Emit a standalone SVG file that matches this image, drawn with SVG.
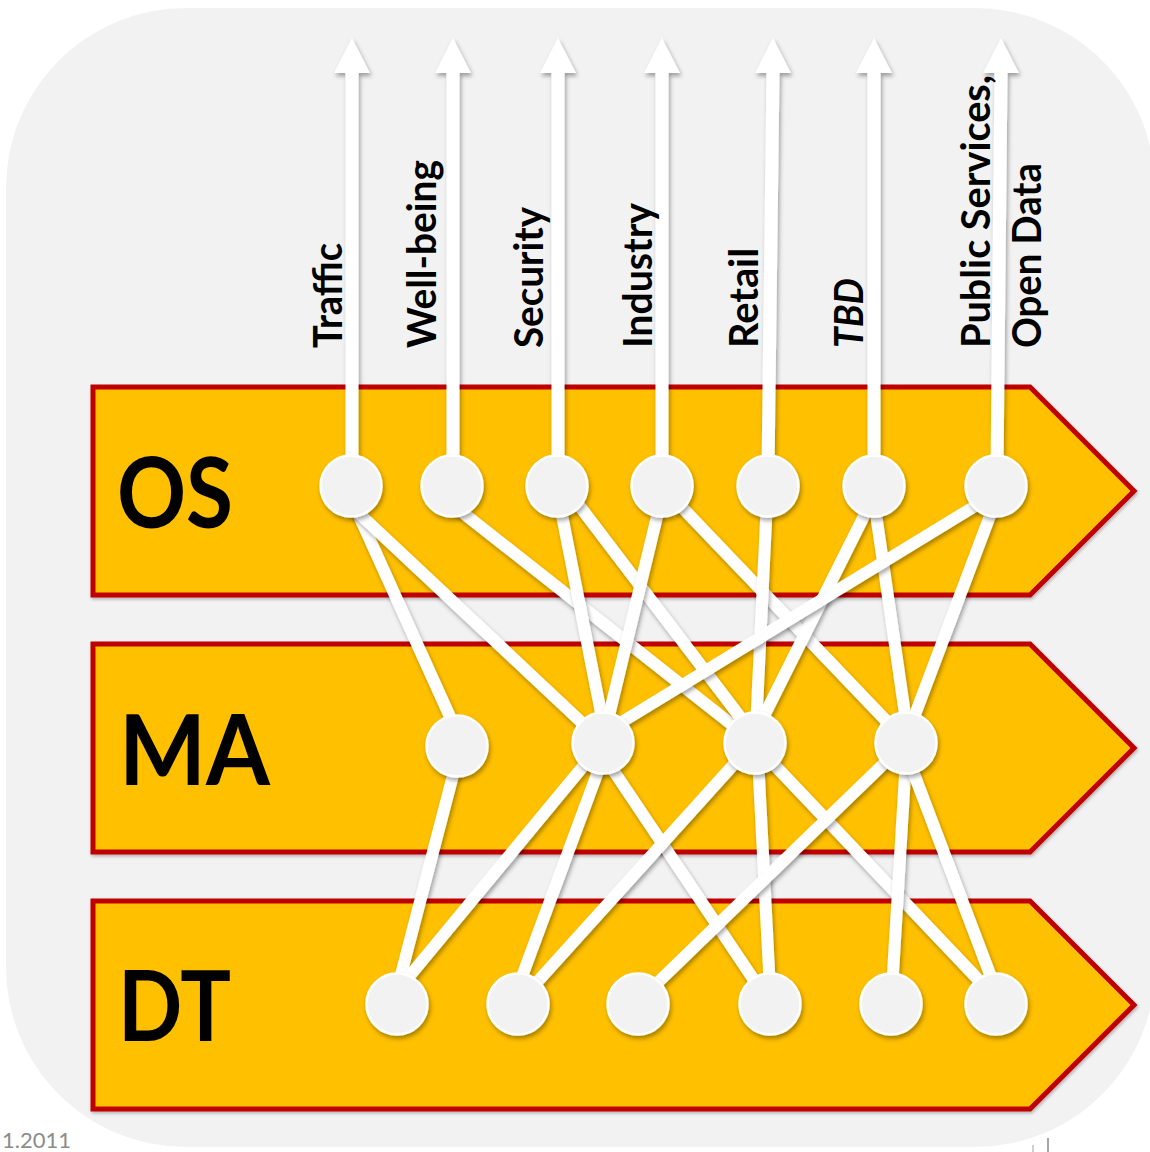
<svg xmlns="http://www.w3.org/2000/svg" width="1150" height="1152" viewBox="0 0 1150 1152">
  <defs>
    <filter id="sh" filterUnits="userSpaceOnUse" x="0" y="0" width="1150" height="1152">
      <feDropShadow dx="1.5" dy="3" stdDeviation="2" flood-color="#000" flood-opacity="0.35"/>
    </filter>
    <filter id="bsh" filterUnits="userSpaceOnUse" x="0" y="0" width="1150" height="1152">
      <feDropShadow dx="1" dy="2" stdDeviation="1.5" flood-color="#000" flood-opacity="0.25"/>
    </filter>
  </defs>
  <style>
    .band { fill: #ffc000; stroke: #c00000; stroke-width: 5; stroke-linejoin: miter; }
    .big { font-family: Lato, "Open Sans", "Liberation Sans", sans-serif; font-weight: 700; fill: #000; }
    .lab { font-family: Lato, "Open Sans", "Liberation Sans", sans-serif; font-weight: 700; font-size: 40px; fill: #000; }
    .conn line { stroke: #ffffff; stroke-width: 12; stroke-linecap: butt; filter: url(#sh); }
    .up { fill: #ffffff; filter: url(#sh); }
    .node { fill: #f2f2f2; stroke: #ffffff; stroke-width: 2.5; filter: url(#sh); }
    .foot { font-family: Lato, "Open Sans", "Liberation Sans", sans-serif; font-size: 22px; fill: #8c8c8c; }
  </style>

  <rect x="0" y="0" width="1150" height="1152" fill="#ffffff"/>
  <rect x="6" y="8" width="1149" height="1139" rx="180" ry="180" fill="#f2f2f2"/>

  <g id="band-OS">
    <polygon class="band" filter="url(#bsh)" points="93,387 1030,387 1134,491 1030,595 93,595"/>
    <text class="big" x="117" y="528" font-size="98" textLength="116" lengthAdjust="spacingAndGlyphs">OS</text>
  </g>
  <g id="band-MA">
    <polygon class="band" filter="url(#bsh)" points="93,644 1030,644 1134,748 1030,852 93,852"/>
    <text class="big" x="119" y="785" font-size="98" textLength="151" lengthAdjust="spacingAndGlyphs">MA</text>
  </g>
  <g id="band-DT">
    <polygon class="band" filter="url(#bsh)" points="93,901 1030,901 1134,1005 1030,1109 93,1109"/>
    <text class="big" x="118" y="1041" font-size="98" textLength="113" lengthAdjust="spacingAndGlyphs">DT</text>
  </g>

  <g id="connectors" class="conn">
    <line x1="352" y1="500" x2="456" y2="730"/>
    <line x1="350" y1="505" x2="595" y2="735"/>
    <line x1="453" y1="505" x2="745" y2="735"/>
    <line x1="559" y1="500" x2="604" y2="728"/>
    <line x1="575" y1="500" x2="750" y2="730"/>
    <line x1="661" y1="500" x2="606" y2="728"/>
    <line x1="675" y1="500" x2="895" y2="730"/>
    <line x1="767" y1="500" x2="756" y2="728"/>
    <line x1="872" y1="500" x2="758" y2="728"/>
    <line x1="874" y1="500" x2="907" y2="728"/>
    <line x1="985" y1="500" x2="612" y2="728"/>
    <line x1="996" y1="500" x2="910" y2="728"/>

    <line x1="457" y1="760" x2="397" y2="990"/>
    <line x1="595" y1="752" x2="398" y2="990"/>
    <line x1="603" y1="758" x2="517" y2="990"/>
    <line x1="605" y1="758" x2="762" y2="992"/>
    <line x1="745" y1="752" x2="530" y2="990"/>
    <line x1="758" y1="758" x2="770" y2="990"/>
    <line x1="765" y1="755" x2="990" y2="992"/>
    <line x1="896" y1="752" x2="648" y2="992"/>
    <line x1="906" y1="758" x2="892" y2="990"/>
    <line x1="908" y1="758" x2="996" y2="990"/>
  </g>

  <g id="outputs">
    <path class="up" d="M345.5,470 L345.5,73 L334,73 L352,38 L370,73 L358.5,73 L358.5,470 Z"/>
    <path class="up" d="M446.5,470 L446.5,73 L435,73 L453,38 L471,73 L459.5,73 L459.5,470 Z"/>
    <path class="up" d="M551.5,470 L551.5,73 L540,73 L558,38 L576,73 L564.5,73 L564.5,470 Z"/>
    <path class="up" d="M655.5,470 L655.5,73 L644,73 L662,38 L680,73 L668.5,73 L668.5,470 Z"/>
    <path class="up" d="M761.5,470 L766.5,73 L755,73 L773,38 L791,73 L779.5,73 L774.5,470 Z"/>
    <path class="up" d="M867.5,470 L867.5,73 L856,73 L874,38 L892,73 L880.5,73 L880.5,470 Z"/>
    <path class="up" d="M990.5,470 L994.5,73 L983,73 L1001,38 L1019,73 L1007.5,73 L1003.5,470 Z"/>
  </g>

  <g id="os-nodes">
    <circle id="os-traffic" class="node" cx="351" cy="486" r="30.5"/>
    <circle id="os-wellbeing" class="node" cx="452" cy="486" r="30.5"/>
    <circle id="os-security" class="node" cx="557" cy="486" r="30.5"/>
    <circle id="os-industry" class="node" cx="662" cy="486" r="30.5"/>
    <circle id="os-retail" class="node" cx="768" cy="486" r="30.5"/>
    <circle id="os-tbd" class="node" cx="874" cy="486" r="30.5"/>
    <circle id="os-public" class="node" cx="996" cy="486" r="30.5"/>
  </g>
  <g id="ma-nodes">
    <circle id="ma-1" class="node" cx="457" cy="746" r="30.5"/>
    <circle id="ma-2" class="node" cx="603" cy="743" r="30.5"/>
    <circle id="ma-3" class="node" cx="755" cy="743" r="30.5"/>
    <circle id="ma-4" class="node" cx="906" cy="743" r="30.5"/>
  </g>
  <g id="dt-nodes">
    <circle id="dt-1" class="node" cx="397" cy="1004" r="30.5"/>
    <circle id="dt-2" class="node" cx="518" cy="1004" r="30.5"/>
    <circle id="dt-3" class="node" cx="638" cy="1004" r="30.5"/>
    <circle id="dt-4" class="node" cx="770" cy="1004" r="30.5"/>
    <circle id="dt-5" class="node" cx="891" cy="1004" r="30.5"/>
    <circle id="dt-6" class="node" cx="996" cy="1004" r="30.5"/>
  </g>

  <g id="labels">
    <text class="lab" transform="translate(342,348) rotate(-90)" textLength="105" lengthAdjust="spacingAndGlyphs">Traffic</text>
    <text class="lab" transform="translate(436,348) rotate(-90)" textLength="188" lengthAdjust="spacingAndGlyphs">Well-being</text>
    <text class="lab" transform="translate(543,348) rotate(-90)" textLength="141" lengthAdjust="spacingAndGlyphs">Security</text>
    <text class="lab" transform="translate(652,348) rotate(-90)" textLength="145" lengthAdjust="spacingAndGlyphs">Industry</text>
    <text class="lab" transform="translate(758,348) rotate(-90)" textLength="100" lengthAdjust="spacingAndGlyphs">Retail</text>
    <text class="lab" transform="translate(863,348) rotate(-90)" font-style="italic" textLength="70" lengthAdjust="spacingAndGlyphs">TBD</text>
    <text class="lab" transform="translate(990,348) rotate(-90)" textLength="273" lengthAdjust="spacingAndGlyphs">Public Services,</text>
    <text class="lab" transform="translate(1041,348) rotate(-90)" textLength="185" lengthAdjust="spacingAndGlyphs">Open Data</text>
  </g>

  <text class="foot" x="2" y="1148">1.2011</text>
  <rect x="1047" y="1138" width="2" height="14" fill="#a6a6a6"/>
  <rect x="1032" y="1145" width="2" height="7" fill="#d0d0d0"/>
</svg>
